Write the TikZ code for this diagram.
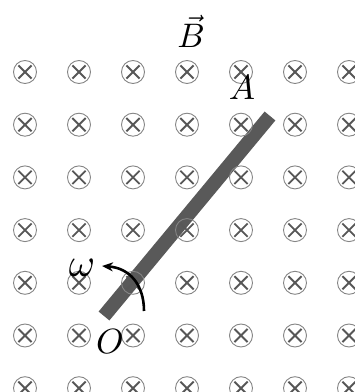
\documentclass[tikz,border=0pt]{standalone}
\usepackage{graphicx}
\usetikzlibrary{arrows.meta}

\newcommand{\biglbl}[2]{\scalebox{#1}{$#2$}}

\tikzset{
    crossin/.style={circle, draw=black!48, line width=0.9pt, minimum size=23pt,
        inner sep=0pt,
        path picture={\draw[black!66, line width=1.9pt]
            (path picture bounding box.center) +(-6.6pt,-6.6pt) -- +(6.6pt,6.6pt)
            +(-6.6pt,6.6pt) -- +(6.6pt,-6.6pt);}},
    mathlbl/.style={inner sep=0pt, anchor=base},
}

\begin{document}
\begin{tikzpicture}[x=1pt,y=1pt]
    \useasboundingbox (0,0) rectangle (355,392);

    % rod
    \coordinate (rodO) at (104,76);
    \coordinate (rodA) at (270,276);
    \draw [black!65, line width=14pt] (rodO) -- (rodA);

    % field into the page
    \foreach \i in {0,...,6}
        \foreach \j in {0,...,6}
            \node[crossin] (b\i\j) at ({25+54*\i},{320-52.7*\j}) {};

    \node[mathlbl] (B) at (191,344)  {\biglbl{3.4}{\vec{B}}};
    \node[mathlbl] (A) at (242,292)  {\biglbl{3.5}{A}};
    \node[mathlbl] (O) at (110,38)   {\biglbl{3.5}{O}};
    \node[mathlbl] (w) at (82,115)   {\biglbl{4}{\omega}};

    % rotation
    \coordinate (w0) at (144,81);
    \coordinate (w1) at (102,126);
    \draw [-{Stealth[length=11pt,width=9pt]}, line width=2.6pt]
        (w0) .. controls (144,108) and (129,124) .. (w1);
\end{tikzpicture}
\end{document}
